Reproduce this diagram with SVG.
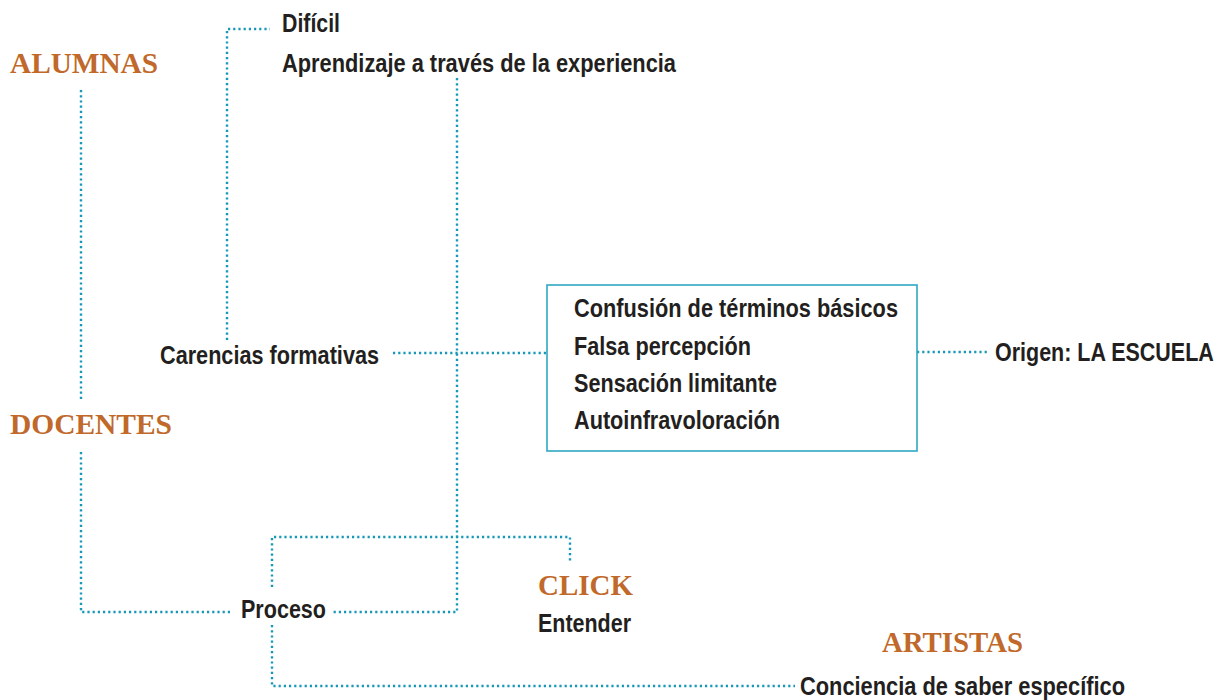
<svg xmlns="http://www.w3.org/2000/svg" width="1220" height="700" viewBox="0 0 1220 700">
<style>
.h{font-family:"Liberation Serif","Times New Roman",serif;font-weight:bold;font-size:29px;fill:#C0692A}
.t{font-family:"Liberation Sans",Arial,sans-serif;font-weight:bold;font-size:25px;fill:#231F20}
.c{fill:none;stroke:#1898B8;stroke-width:2.4;stroke-dasharray:2.2 3}
.box{fill:#fff;stroke:#2EA7C2;stroke-width:1.6}
</style>
<rect width="1220" height="700" fill="#fff"/>
<g id="connectors">
<path class="c" d="M81 90 V400"/>
<path class="c" d="M81 452 V612 H233"/>
<path class="c" d="M227 340 V29 H270"/>
<path class="c" d="M393 353 H547"/>
<path class="c" d="M917 352 H988"/>
<path class="c" d="M457 78 V612 H332"/>
<path class="c" d="M272 587 V537 H570 V563"/>
<path class="c" d="M272 625 V686 H795"/>
</g>
<g id="alumnas"><text class="h" x="10" y="73" textLength="148" lengthAdjust="spacingAndGlyphs">ALUMNAS</text></g>
<g id="docentes"><text class="h" x="10" y="434" textLength="162" lengthAdjust="spacingAndGlyphs">DOCENTES</text></g>
<g id="dificil"><text class="t" x="282" y="32" textLength="58" lengthAdjust="spacingAndGlyphs">Difícil</text></g>
<g id="aprendizaje"><text class="t" x="282" y="72" textLength="394" lengthAdjust="spacingAndGlyphs">Aprendizaje a través de la experiencia</text></g>
<g id="carencias"><text class="t" x="160" y="364" textLength="219" lengthAdjust="spacingAndGlyphs">Carencias formativas</text></g>
<g id="box">
<rect class="box" x="547" y="285" width="370" height="166"/>
<text class="t" x="574" y="317" textLength="324" lengthAdjust="spacingAndGlyphs">Confusión de términos básicos</text>
<text class="t" x="574" y="355" textLength="177" lengthAdjust="spacingAndGlyphs">Falsa percepción</text>
<text class="t" x="574" y="392" textLength="203" lengthAdjust="spacingAndGlyphs">Sensación limitante</text>
<text class="t" x="574" y="429" textLength="206" lengthAdjust="spacingAndGlyphs">Autoinfravoloración</text>
</g>
<g id="origen"><text class="t" transform="translate(995 361) scale(0.86 1)">Origen: LA ESCUELA</text></g>
<g id="proceso"><text class="t" x="241" y="618" textLength="85" lengthAdjust="spacingAndGlyphs">Proceso</text></g>
<g id="click">
<text class="h" x="538" y="595" textLength="95" lengthAdjust="spacingAndGlyphs">CLICK</text>
<text class="t" x="538" y="632" textLength="93" lengthAdjust="spacingAndGlyphs">Entender</text>
</g>
<g id="artistas"><text class="h" x="882" y="652" textLength="141" lengthAdjust="spacingAndGlyphs">ARTISTAS</text></g>
<g id="conciencia"><text class="t" x="800" y="695" textLength="325" lengthAdjust="spacingAndGlyphs">Conciencia de saber específico</text></g>
</svg>
